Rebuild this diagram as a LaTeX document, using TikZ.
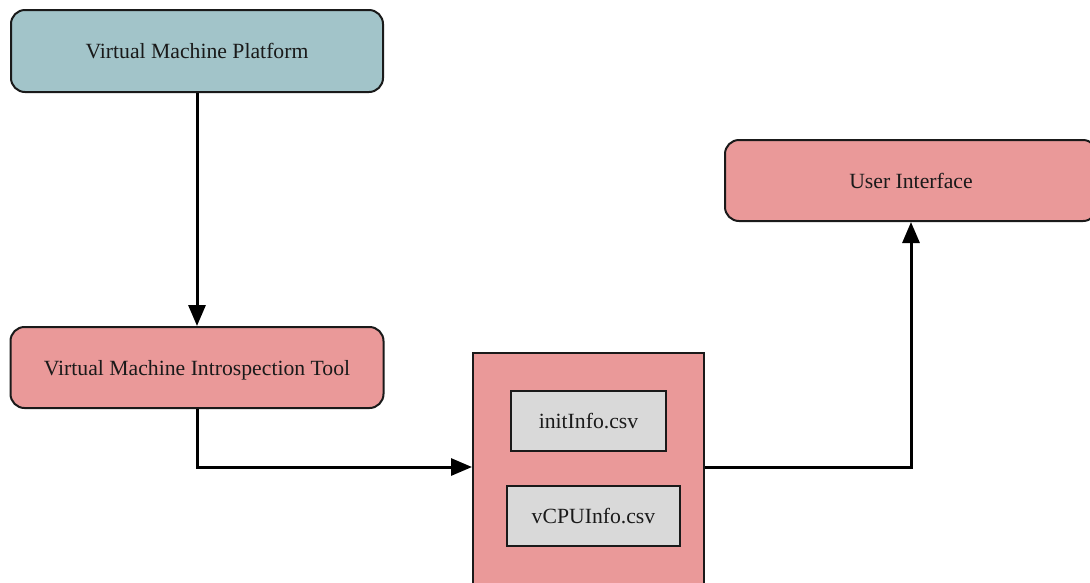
\documentclass[tikz,border=0pt]{standalone}
\usepackage{fontspec}
\setmainfont{Liberation Serif}
\usetikzlibrary{arrows.meta}
\definecolor{platformfill}{HTML}{A2C4C9}
\definecolor{toolfill}{HTML}{EA9999}
\definecolor{filefill}{HTML}{D9D9D9}
\definecolor{inkline}{HTML}{1A1A1A}
\tikzset{
  block/.style={draw=inkline, line width=2pt, rounded corners=14pt, inner sep=0pt,
    font=\fontsize{21.7}{25}\selectfont, text=inkline, text depth=0pt},
  holder/.style={draw=inkline, line width=2pt, fill=toolfill, inner sep=0pt},
  filebox/.style={draw=inkline, line width=2pt, fill=filefill, inner sep=0pt,
    font=\fontsize{21.7}{25}\selectfont, text=inkline},
  flow/.style={draw=black, line width=3pt, -{Triangle[length=21pt,width=17pt]}}
}
\begin{document}
\begin{tikzpicture}[x=1pt,y=-1pt]
  \useasboundingbox (0,0) rectangle (1090,582);
  \clip (0,0) rectangle (1090,582);
  % source and introspection tool
  \node[block, fill=platformfill, minimum width=372pt, minimum height=82pt] (vmp) at (197,51) {Virtual Machine Platform};
  \node[block, fill=toolfill, minimum width=373pt, minimum height=81pt] (vmit) at (197,367.5) {Virtual Machine Introspection Tool};
  % output files container
  \node[holder, minimum width=231pt, minimum height=260pt] (store) at (588.5,483) {};
  \node[filebox, minimum width=155pt, minimum height=60pt] (init) at (588.5,421) {initInfo.csv};
  \node[filebox, minimum width=173pt, minimum height=60pt] (vcpu) at (593.5,516) {vCPUInfo.csv};
  % front end
  \node[block, fill=toolfill, minimum width=372pt, minimum height=81pt] (ui) at (911,180.5) {User Interface};
  % connection points on the container sides
  \coordinate (storein) at (store.west |- 0,467);
  \coordinate (storeout) at (store.east |- 0,467);
  % data flow
  \draw[flow] (vmp.south) -- (vmit.north);
  \draw[flow] (vmit.south) |- (storein);
  \draw[flow] (storeout) -| (ui.south);
\end{tikzpicture}
\end{document}
